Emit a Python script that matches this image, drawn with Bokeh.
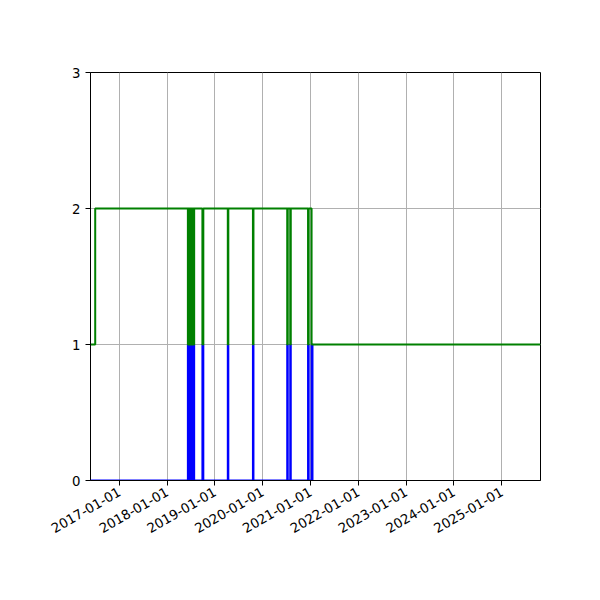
import pandas as pd
from math import pi
from bokeh.plotting import figure
from bokeh.models import FixedTicker, Range1d, DatetimeTickFormatter
from bokeh.embed import file_html
from bokeh.resources import INLINE

# ---- data ----
start_date = "2016-05-26"
end_date = "2025-10-24"
green_rise = "2016-07-01"
spike_starts = ["2018-06-09", "2018-06-20", "2018-07-01", "2018-07-12", "2018-07-23",
                "2018-09-28", "2019-04-10", "2019-10-19", "2020-07-07", "2020-07-30",
                "2020-12-13", "2021-01-09"]
spike_ends = ["2018-06-13", "2018-06-24", "2018-07-05", "2018-07-16", "2018-07-27",
              "2018-10-05", "2019-04-14", "2019-10-23", "2020-07-11", "2020-08-03",
              "2020-12-18", "2021-01-16"]
y_ticks = [0, 1, 2, 3]
x_tick_labels = ["2017-01-01", "2018-01-01", "2019-01-01", "2020-01-01", "2021-01-01",
                 "2022-01-01", "2023-01-01", "2024-01-01", "2025-01-01"]

# ---- build step series ----
bx, by = [start_date], [0]
for s, e in zip(spike_starts, spike_ends):
    bx += [s, e]
    by += [1, 0]

gx, gy = [start_date, green_rise], [1, 2]
for s, e in zip(spike_starts[:-1], spike_ends[:-1]):
    gx += [s, e]
    gy += [1, 2]
gx += [spike_starts[-1], end_date]
gy += [1, 1]

bx = pd.to_datetime(bx)
gx = pd.to_datetime(gx)

W, H = 592, 592
p = figure(width=W, height=H, x_axis_type="datetime", output_backend="svg",
           toolbar_location=None,
           x_range=Range1d(pd.Timestamp(start_date), pd.Timestamp(end_date)),
           y_range=Range1d(0, 3),
           min_border_left=90, min_border_right=52, min_border_top=72, min_border_bottom=112)

p.step(bx, by, mode="after", line_color="blue", line_width=2)
p.step(gx, gy, mode="after", line_color="green", line_width=2)

tick_ms = [pd.Timestamp(t).timestamp() * 1000 for t in x_tick_labels]
p.xaxis.ticker = FixedTicker(ticks=tick_ms)
fmt = "%Y-%m-%d"
p.xaxis.formatter = DatetimeTickFormatter(years=fmt, months=fmt, days=fmt, hours=fmt,
                                          minutes=fmt, seconds=fmt, milliseconds=fmt,
                                          microseconds=fmt, minsec=fmt, hourmin=fmt)
p.xaxis.major_label_orientation = pi / 6
p.yaxis.ticker = FixedTicker(ticks=y_ticks)

for ax in (p.xaxis, p.yaxis):
    ax.axis_line_color = "black"
    ax.axis_line_width = 1
    ax.major_tick_line_color = "black"
    ax.major_tick_line_width = 1
    ax.major_tick_out = 5
    ax.major_tick_in = 0
    ax.minor_tick_line_color = None
    ax.major_label_text_font = "DejaVu Sans"
    ax.major_label_text_font_size = "13.3px"
    ax.major_label_text_color = "black"
    ax.major_label_standoff = 5

p.grid.grid_line_color = "#b0b0b0"
p.grid.grid_line_width = 1
p.outline_line_color = "black"
p.outline_line_width = 1
p.background_fill_color = "white"
p.border_fill_color = "white"

open("out.html", "w").write(file_html(p, INLINE))
